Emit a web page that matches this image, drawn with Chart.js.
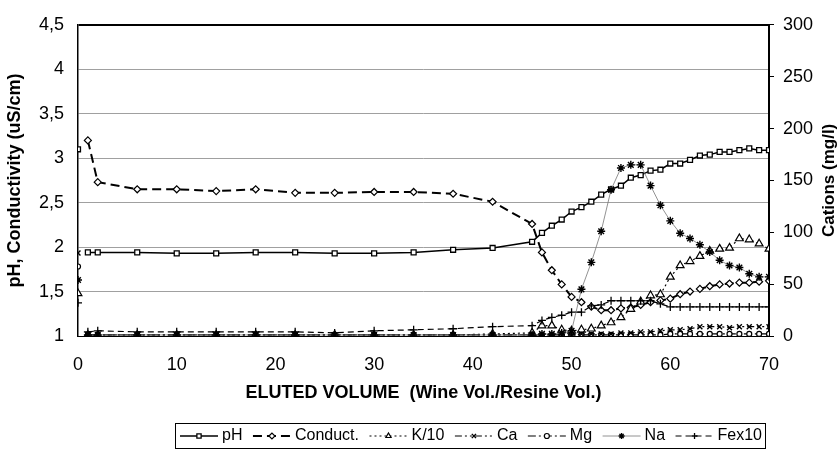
<!DOCTYPE html>
<html>
<head>
<meta charset="utf-8">
<script src="https://cdn.jsdelivr.net/npm/chart.js@4.4.1/dist/chart.umd.min.js"></script>
<style>
  html, body { margin: 0; padding: 0; background: #fff; }
  #wrap { width: 839px; height: 450px; }
</style>
</head>
<body>
<div id="wrap"><canvas id="elution" width="839" height="450"></canvas></div>
<script>
// eluted volume (wine vol. / resine vol.); x = 0 is the untreated wine
const volume = [0, 1, 2, 6, 10, 14, 18, 22, 26, 30, 34, 38, 42, 46, 47, 48, 49, 50, 51, 52, 53, 54,
  55, 56, 57, 58, 59, 60, 61, 62, 63, 64, 65, 66, 67, 68, 69, 70];

// left axis
const ph = [3.1, 1.94, 1.94, 1.94, 1.93, 1.93, 1.94, 1.94, 1.93, 1.93, 1.94, 1.97, 1.99, 2.06, 2.16, 2.24,
  2.31, 2.40, 2.45, 2.51, 2.59, 2.65, 2.69, 2.78, 2.81, 2.86, 2.87, 2.94, 2.94, 2.98, 3.03, 3.04, 3.07,
  3.07, 3.09, 3.11, 3.09, 3.09];
const conduct = [null, 3.2, 2.73, 2.65, 2.65, 2.63, 2.65, 2.61, 2.61, 2.62, 2.62, 2.6, 2.51, 2.26, 1.94,
  1.74, 1.58, 1.44, 1.38, 1.33, 1.29, 1.29, 1.31, 1.32, 1.35, 1.38, 1.40, 1.42, 1.47, 1.50, 1.53, 1.56,
  1.58, 1.59, 1.60, 1.60, 1.61, 1.62];

// right axis (mg/l)
const k10 = [41, 1, 1, 1, 1, 1, 1, 1, 1, 1, 1, 1, 2, 3, 10, 10, 6, 5, 6, 7, 10, 13, 18, 26, 33, 39, 40,
  57, 68, 72, 77, 82, 84, 85, 94, 93, 89, 84];
const ca = [80, 1, 1, 1, 1, 1, 1, 1, 1, 1, 1, 1, 1, 1, 1, 1, 1, 1, 2, 2, 2, 2, 3, 3, 4, 4, 5, 6, 6, 7, 9,
  9, 9, 8, 9, 9, 9, 9];
const mg = [67, 1, 1, 1, 1, 1, 1, 1, 1, 1, 1, 1, 1, 1, 1, 1, 1, 1, 1, 1, 1, 1, 1, 1, 1, 1, 1, 2, 2, 2, 2,
  2, 2, 2, 2, 2, 2, 2];
const na = [54, 1, 1, 1, 1, 1, 1, 1, 1, 1, 1, 1, 1, 1, 2, 2, 3, 5, 45, 71, 101, 141, 162, 165, 165, 145,
  126, 111, 99, 94, 88, 81, 73, 68, 66, 60, 57, 57];
const fe10 = [32, 4, 5, 4, 4, 4, 4, 4, 3, 5, 6, 7, 9, 10, 15, 18, 20, 23, 23, 29, 30, 34, 34, 34, 34, 34,
  31, 28, 28, 28, 28, 28, 28, 28, 28, 28, 28, 28];

const leftTicks = [1, 1.5, 2, 2.5, 3, 3.5, 4, 4.5];
const rightTicks = [0, 50, 100, 150, 200, 250, 300];
const xTicks = [0, 10, 20, 30, 40, 50, 60, 70];

const FONT = "'Liberation Sans', Arial, sans-serif";

const pts = vals => volume.map((x, i) => ({ x: x, y: vals[i] }));

// the untreated wine point (x = 0) is not joined to the curve
const noJoin = { borderColor: ctx => ctx.p0.parsed.x === 0 ? 'rgba(0,0,0,0)' : undefined };

function series(label, vals, axis, style) {
  return Object.assign({
    label: label,
    data: pts(vals),
    yAxisID: axis,
    borderColor: '#000',
    pointBorderColor: '#000',
    pointBackgroundColor: '#fff',
    borderWidth: 1.2,
    pointBorderWidth: 1.2,
    pointRadius: 3.5,
    tension: 0,
    spanGaps: false,
    segment: noJoin
  }, style);
}

const datasets = [
  series('Na', na, 'y1', { borderColor: '#777', borderWidth: 0.8, pointStyle: 'star', pointRadius: 4, pointBorderWidth: 1.4 }),
  series('Fex10', fe10, 'y1', { borderDash: [6, 4], pointStyle: 'cross', pointRadius: 4, pointBorderWidth: 1.3 }),
  series('Ca', ca, 'y1', { borderDash: [7, 3, 2, 3, 2, 3], pointStyle: 'crossRot', pointRadius: 3.5, pointBorderWidth: 1.4 }),
  series('Mg', mg, 'y1', { borderDash: [8, 3, 2, 3], pointStyle: 'circle', pointRadius: 2.5 }),
  series('K/10', k10, 'y1', { borderDash: [2, 3], pointStyle: 'triangle', pointRadius: 4.5 }),
  series('Conduct.', conduct, 'y', { borderDash: [9, 5], borderWidth: 2, pointStyle: 'rectRot', pointRadius: 3.5 }),
  series('pH', ph, 'y', { borderWidth: 1.5, pointStyle: 'rect', pointRadius: 3.5, pointBorderWidth: 1.3 })
];
const legendOrder = ['pH', 'Conduct.', 'K/10', 'Ca', 'Mg', 'Na', 'Fex10'];

// legend drawn in the canvas: line sample with its marker, then the label
const boxLegend = {
  id: 'boxLegend',
  afterDraw(chart) {
    const ctx = chart.ctx;
    const bx = 175, by = 423, bw = 590, bh = 25, cy = by + bh / 2 + 0.5;
    ctx.save();
    ctx.strokeStyle = '#000';
    ctx.lineWidth = 1;
    ctx.setLineDash([]);
    ctx.strokeRect(bx + 0.5, by + 0.5, bw, bh);
    ctx.font = '16px ' + FONT;
    ctx.textBaseline = 'middle';
    const sample = 38, gapTxt = 4;
    const items = legendOrder.map(l => datasets.find(d => d.label === l));
    const widths = items.map(d => ctx.measureText(d.label).width);
    const total = widths.reduce((a, w) => a + sample + gapTxt + w, 0);
    const gap = (bw - 8 - total) / (items.length - 1);
    let x = bx + 5;
    items.forEach((d, i) => {
      ctx.strokeStyle = d.borderColor;
      ctx.lineWidth = d.borderWidth;
      ctx.setLineDash(d.borderDash || []);
      ctx.beginPath();
      ctx.moveTo(x, cy);
      ctx.lineTo(x + sample, cy);
      ctx.stroke();
      ctx.setLineDash([]);
      ctx.strokeStyle = '#000';
      ctx.fillStyle = '#fff';
      ctx.lineWidth = d.pointBorderWidth;
      Chart.helpers.drawPoint(ctx, { pointStyle: d.pointStyle, radius: Math.min(d.pointRadius, 3), rotation: 0, borderWidth: d.pointBorderWidth }, x + sample / 2, cy);
      ctx.fillStyle = '#000';
      ctx.fillText(d.label, x + sample + gapTxt, cy);
      x += sample + gapTxt + widths[i] + gap;
    });
    ctx.restore();
  }
};

// right title reads bottom to top
const rightTitle = {
  id: 'rightTitle',
  afterDraw(chart) {
    const ctx = chart.ctx;
    const a = chart.chartArea;
    ctx.save();
    ctx.translate(829, (a.top + a.bottom) / 2);
    ctx.rotate(-Math.PI / 2);
    ctx.font = 'bold 17px ' + FONT;
    ctx.fillStyle = '#000';
    ctx.textAlign = 'center';
    ctx.textBaseline = 'middle';
    ctx.fillText('Cations (mg/l)', 0, 0);
    ctx.restore();
  }
};

new Chart(document.getElementById('elution'), {
  type: 'line',
  data: { datasets: datasets },
  options: {
    responsive: false,
    animation: false,
    devicePixelRatio: 1,
    layout: { padding: { top: 22, left: 0, right: 0, bottom: 40 } },
    plugins: { legend: { display: false }, tooltip: { enabled: false } },
    scales: {
      x: {
        type: 'linear', min: 0, max: 70,
        afterFit: s => { s.height = 74; },
        afterBuildTicks: s => { s.ticks = xTicks.map(v => ({ value: v })); },
        grid: { display: false },
        border: { display: true, color: '#000', width: 1 },
        ticks: { color: '#000', font: { family: FONT, size: 18 }, padding: 10, maxRotation: 0 },
        title: { display: true, text: 'ELUTED VOLUME  (Wine Vol./Resine Vol.)', color: '#000',
          font: { family: FONT, size: 18, weight: 'bold' }, padding: { top: 0, bottom: 6 } }
      },
      y: {
        position: 'left', min: 1, max: 4.5,
        afterFit: s => { s.width = 78; },
        afterBuildTicks: s => { s.ticks = leftTicks.map(v => ({ value: v })); },
        grid: {
          drawTicks: false,
          color: c => c.tick.value === 4.5 ? '#000' : '#a0a0a0',
          lineWidth: c => c.tick.value === 4.5 ? 2 : 1
        },
        border: { display: true, color: '#000', width: 1.5 },
        ticks: { color: '#000', font: { family: FONT, size: 18 }, padding: 14,
          callback: v => String(v).replace('.', ',') },
        title: { display: true, text: 'pH, Conductivity (uS/cm)', color: '#000',
          font: { family: FONT, size: 18, weight: 'bold' }, padding: { top: 4, bottom: 0 } }
      },
      y1: {
        position: 'right', min: 0, max: 300,
        afterFit: s => { s.width = 70; },
        afterBuildTicks: s => { s.ticks = rightTicks.map(v => ({ value: v })); },
        grid: { drawOnChartArea: false, color: '#000', tickLength: 5 },
        border: { display: true, color: '#000', width: 2 },
        ticks: { color: '#000', font: { family: FONT, size: 18 }, padding: 9 }
      }
    }
  },
  plugins: [boxLegend, rightTitle]
});
</script>
</body>
</html>
